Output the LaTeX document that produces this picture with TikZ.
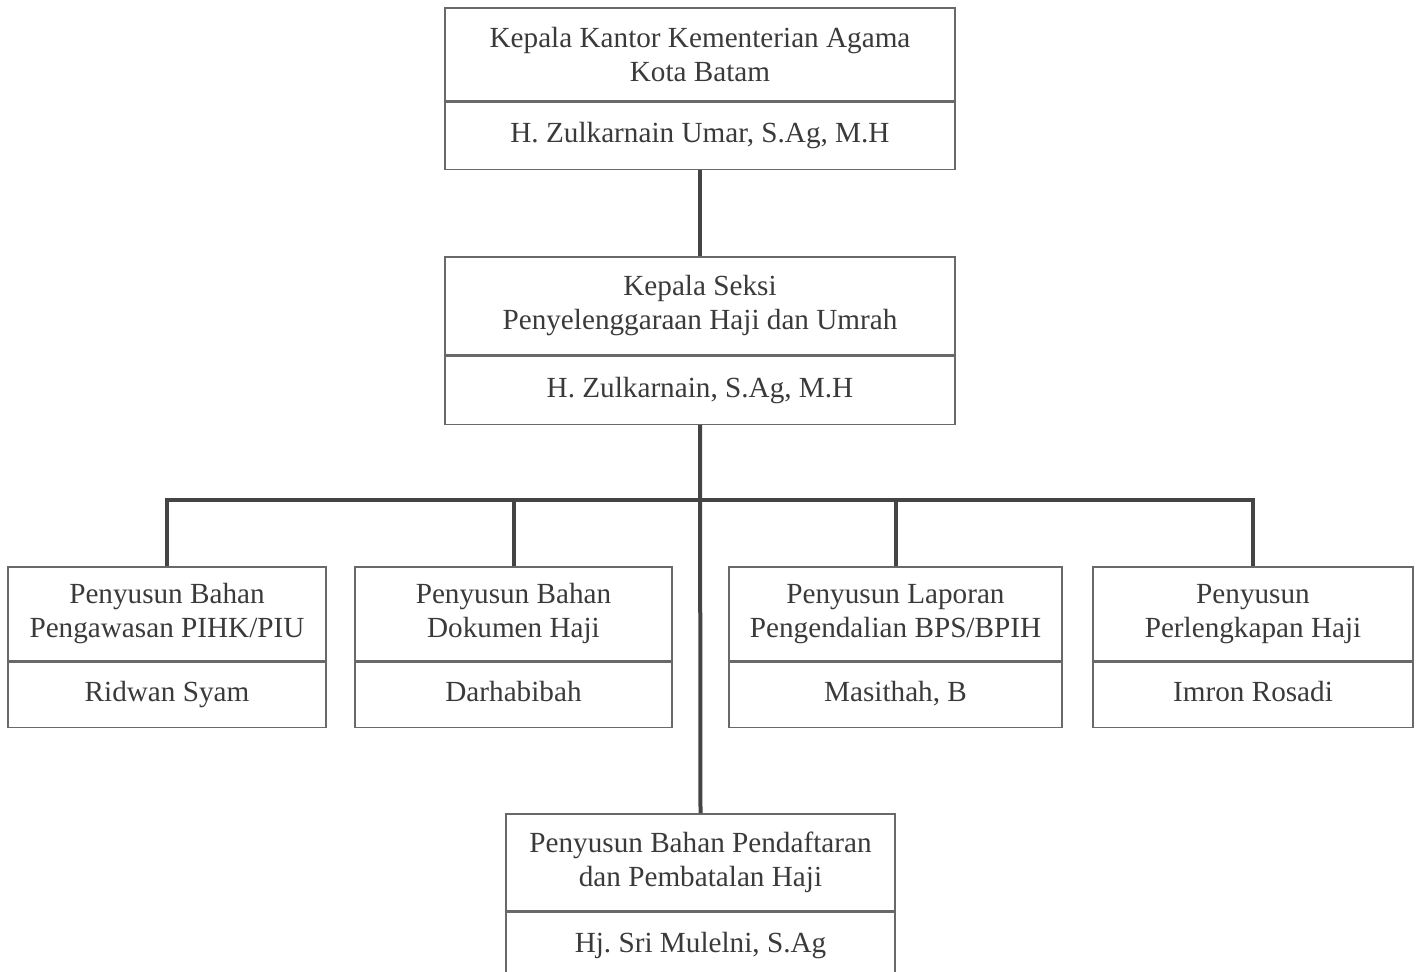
\documentclass[tikz,border=0pt]{standalone}
\usepackage{fontspec}
\setmainfont{Liberation Serif}
\usetikzlibrary{positioning}
\definecolor{boxline}{RGB}{105,105,105}
\definecolor{linkcol}{RGB}{68,68,68}
\definecolor{txtcol}{RGB}{58,58,58}

\tikzset{
  post/.style={draw=boxline, line width=0.8pt, text=txtcol, align=center,
    inner sep=0pt, font=\fontsize{14.6}{17}\selectfont},
  jabatan/.style={post, anchor=north},
  pejabat/.style={post, below=0pt of #1, text height=10pt, text depth=3pt},
  link/.style={draw=linkcol, line width=2pt}
}

\begin{document}
\begin{tikzpicture}[x=0.5pt, y=-0.5pt]

% ---- page frame (pixel grid 1419 x 971) ----
\useasboundingbox (0,0) rectangle (1419,971);

% ---- level 1: Kepala Kantor ----
\node[jabatan, minimum width=255pt, minimum height=46.5pt] (kakan) at (700,7)
  {Kepala Kantor Kementerian Agama\\Kota Batam};
\node[pejabat=kakan, minimum width=255pt, minimum height=33.5pt] (kakan-n)
  {H. Zulkarnain Umar, S.Ag, M.H};

% ---- level 2: Kepala Seksi ----
\node[jabatan, minimum width=255pt, minimum height=49pt] (kasi) at (700,256)
  {Kepala Seksi\\Penyelenggaraan Haji dan Umrah};
\node[pejabat=kasi, minimum width=255pt, minimum height=34pt] (kasi-n)
  {H. Zulkarnain, S.Ag, M.H};

% ---- level 3: Penyusun ----
\node[jabatan, minimum width=159pt, minimum height=47pt] (pihk) at (167,566)
  {Penyusun Bahan\\Pengawasan PIHK/PIU};
\node[pejabat=pihk, minimum width=159pt, minimum height=32.5pt] (pihk-n)
  {Ridwan Syam};

\node[jabatan, minimum width=158.5pt, minimum height=47pt] (dokumen) at (513.5,566)
  {Penyusun Bahan\\Dokumen Haji};
\node[pejabat=dokumen, minimum width=158.5pt, minimum height=32.5pt] (dokumen-n)
  {Darhabibah};

\node[jabatan, minimum width=166.5pt, minimum height=47pt] (laporan) at (895.5,566)
  {Penyusun Laporan\\Pengendalian BPS/BPIH};
\node[pejabat=laporan, minimum width=166.5pt, minimum height=32.5pt] (laporan-n)
  {Masithah, B};

\node[jabatan, minimum width=160pt, minimum height=47pt] (perlengkapan) at (1253,566)
  {Penyusun\\Perlengkapan Haji};
\node[pejabat=perlengkapan, minimum width=160pt, minimum height=32.5pt] (perlengkapan-n)
  {Imron Rosadi};

% ---- level 4: Pendaftaran ----
\node[jabatan, minimum width=194.5pt, minimum height=48.5pt] (daftar) at (700.5,813)
  {Penyusun Bahan Pendaftaran\\dan Pembatalan Haji};
\node[pejabat=daftar, minimum width=194.5pt, minimum height=33.5pt] (daftar-n)
  {Hj.\ Sri Mulelni, S.Ag};

% ---- connectors ----
\coordinate (hub) at (700.5,500);
\draw[link] (kakan-n.south) -- (kasi.north);
\draw[link] (kasi-n.south) -- (daftar.north);
\draw[link] (pihk.north) |- (hub) -| (perlengkapan.north);
\draw[link] (dokumen.north) -- (dokumen.north |- hub);
\draw[link] (laporan.north) -- (laporan.north |- hub);

\end{tikzpicture}
\end{document}
